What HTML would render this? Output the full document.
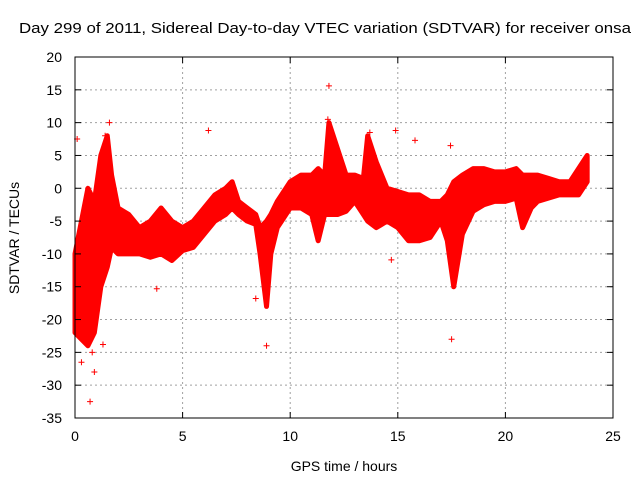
<!DOCTYPE html>
<html><head><meta charset="utf-8"><style>
body{margin:0;background:#fff;}
svg{display:block;font-family:"Liberation Sans",sans-serif;}
</style></head><body>
<svg id="chart" width="640" height="480">
<text x="325" y="33" font-size="15" text-anchor="middle" textLength="612" lengthAdjust="spacingAndGlyphs">Day 299 of 2011, Sidereal Day-to-day VTEC variation (SDTVAR) for receiver onsa</text>
<text x="344" y="471" font-size="14" text-anchor="middle">GPS time / hours</text>
<text transform="translate(19,238) rotate(-90)" font-size="14" text-anchor="middle">SDTVAR / TECUs</text>
<g id="grid"></g><g id="data"></g><g id="axes"></g>
</svg>
<script>
const xTicks=[0,5,10,15,20,25];
const yTicks=[20,15,10,5,0,-5,-10,-15,-20,-25,-30,-35];
const times=[0,0.3,0.6,0.9,1.2,1.5,1.7,2.0,2.5,3.0,3.5,4.0,4.5,5.0,5.5,6.0,6.5,7.0,7.3,7.6,8.0,8.4,8.6,8.9,9.1,9.4,9.6,10.0,10.5,11.0,11.3,11.6,11.8,12.2,12.6,13.0,13.4,13.6,14.0,14.5,15.0,15.5,16.0,16.5,17.0,17.3,17.6,18.0,18.5,19.0,19.5,20.0,20.5,20.8,21.2,21.5,22.0,22.5,23.0,23.4,23.8];
const upper=[-10,-5,0,-2,5,8,2,-3,-4,-6,-5,-3,-5,-6,-5,-3,-1,0,1,-2,-3,-4,-6,-5,-4,-2,-1,1,2,2,3,2,10,6,2,2,1.5,8,4,0,-0.5,-1,-1,-2,-2,-1,1,2,3,3,2.5,2.5,3,2,2,2,1.5,1,1,3,5];
const lower=[-22,-23,-24,-22,-15,-12,-9,-10,-10,-10,-10.5,-10,-11,-9.5,-9,-7,-5,-4,-3,-4,-5,-5.5,-10,-18,-10,-6,-5,-3,-3,-4,-8,-4,-4,-4,-3.5,-2,-4,-5,-6,-5,-6,-8,-8,-7.5,-5,-8,-15,-7,-3.5,-2.5,-2,-2,-1.5,-6,-3,-2,-1.5,-1,-1,-1,1];
const outT=[0.1,11.8,14.9,15.8,14.7,17.5,8.4,6.2,0.7,0.9,1.3,0.3,3.8,1.6,0.8,1.4,13.7,11.75,17.45,8.9];
const outV=[7.5,15.6,8.8,7.3,-10.9,-23,-16.8,8.8,-32.5,-28,-23.8,-26.5,-15.3,10,-25,8,8.5,10.5,6.5,-24];
const X0=75,X1=613,Y0=57,Y1=418;
const sx=t=>X0+(t-0)/25*(X1-X0);
const sy=v=>Y0+(20-v)/55*(Y1-Y0);
const NS="http://www.w3.org/2000/svg";
function mk(tag,a,p){const e=document.createElementNS(NS,tag);for(const k in a)e.setAttribute(k,a[k]);p.appendChild(e);return e;}
const grid=document.getElementById('grid'),axes=document.getElementById('axes'),data=document.getElementById('data');
xTicks.forEach(t=>{
 if(t>0&&t<25){const g=mk('line',{x1:sx(t),x2:sx(t),y1:Y0,y2:Y1,stroke:'#a0a0a0','stroke-dasharray':'2,3'},grid);
 }
 const l=mk('text',{x:sx(t),y:Y1+23,'font-size':14,'text-anchor':'middle'},axes);l.textContent=t;
 
 mk('line',{x1:sx(t),x2:sx(t),y1:Y1,y2:Y1-6,stroke:'#000'},axes);mk('line',{x1:sx(t),x2:sx(t),y1:Y0,y2:Y0+6,stroke:'#000'},axes);
});
yTicks.forEach(v=>{
 if(v<20&&v>-35){const g=mk('line',{x1:X0,x2:X1,y1:sy(v),y2:sy(v),stroke:'#a0a0a0','stroke-dasharray':'2,3'},grid);
 }
 const l=mk('text',{x:X0-13,y:sy(v)+5,'font-size':14,'text-anchor':'end'},axes);l.textContent=v;
 
 mk('line',{x1:X0,x2:X0+6,y1:sy(v),y2:sy(v),stroke:'#000'},axes);mk('line',{x1:X1,x2:X1-6,y1:sy(v),y2:sy(v),stroke:'#000'},axes);
});
const fr=mk('rect',{x:X0,y:Y0,width:X1-X0,height:Y1-Y0,fill:'none',stroke:'#000'},axes);

let pts=times.map((t,i)=>sx(t)+','+sy(upper[i]));
for(let i=times.length-1;i>=0;i--)pts.push(sx(times[i])+','+sy(lower[i]));
const band=mk('polygon',{points:pts.join(' '),fill:'#ff0000',stroke:'#ff0000','stroke-width':5,'stroke-linejoin':'round'},data);

outT.forEach((t,i)=>{
 const x=sx(t),y=sy(outV[i]);
 const p=mk('path',{d:`M${x-3},${y}H${x+3}M${x},${y-3}V${y+3}`,stroke:'#ff0000','stroke-width':1},data);
 
});
</script>
</body></html>
